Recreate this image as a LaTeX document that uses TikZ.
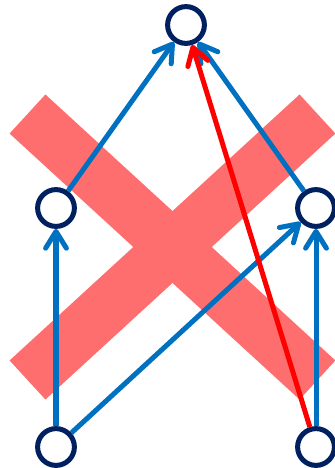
\documentclass[tikz,border=0pt]{standalone}
\usepackage{tikz}
\usetikzlibrary{arrows.meta,positioning}
\definecolor{netNavy}{RGB}{0,32,96}
\definecolor{netBlue}{RGB}{0,112,192}
\definecolor{crossRed}{RGB}{255,110,110}

\begin{document}
\begin{tikzpicture}[x=0.025cm,y=-0.025cm,
    unit/.style={circle,draw=netNavy,line width=0.125cm,fill=white,minimum size=0.92cm,inner sep=0pt},
    link/.style={netBlue,line width=0.125cm,-{Straight Barb[length=0.42cm,width=0.52cm,line cap=round,line join=round]}},
    badlink/.style={link,red},
    crossbar/.style={crossRed,line width=1.325cm}]
  \useasboundingbox (0,0) rectangle (335,468);
  % big cross behind the net
  \draw[crossbar] (27.5,114) -- (317.5,380);
  \draw[crossbar] (27.5,380) -- (317.5,114);
  % units
  \node[unit] (out) at (186,25) {};
  \node[unit] (hidA) at (56,208) {};
  \node[unit] (hidB) at (316,208) {};
  \node[unit] (inA) at (56,447) {};
  \node[unit] (inB) at (316,447) {};
  % connections
  \draw[link] (inA) -- (hidA);
  \draw[link] (inA) -- (hidB);
  \draw[link] (inB) -- (hidB);
  \draw[link] (hidA) -- (out);
  \draw[link] (hidB) -- (out);
  \draw[badlink] (inB) -- (out);
\end{tikzpicture}
\end{document}
